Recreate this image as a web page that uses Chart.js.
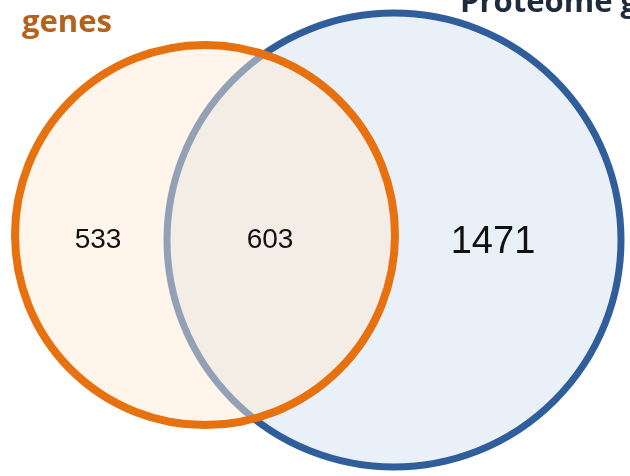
<!DOCTYPE html>
<html>
<head>
<meta charset="utf-8">
<script src="https://cdn.jsdelivr.net/npm/chart.js@4"></script>
<style>
  html, body { margin: 0; padding: 0; background: #fff; }
  #wrap { width: 630px; height: 476px; position: relative; }
</style>
</head>
<body>
<div id="wrap"><canvas id="venn"></canvas></div>
<script>
/* ---------- DATA ---------- */
const setNames = ['genes', 'Proteome genes'];
const regionCounts = [533, 603, 1471];

/* ---------- LAYOUT (data units = pixels) ---------- */
const circles = [
    { x: 394, y: 240, size: 227 },   // right / blue (drawn first)
    { x: 205, y: 235, size: 190 }    // left / orange (on top)
];
const circleStyles = [
    { fill: '#eaf0f8', stroke: '#2f5e9a', width: 7 },
    { fill: 'rgba(255,235,212,0.48)', stroke: '#e8710f', width: 8 }
];
const countSpots = [
    { x: 98, y: 240, font: 28 },
    { x: 270, y: 240, font: 28 },
    { x: 493, y: 243, font: 38 }
];
const titleSpots = [
    { x: 22, y: 32, color: '#b4621c' },
    { x: 460, y: 12, color: '#1e2b3c' }
];

/* ---------- circles, sized through the x scale ---------- */
const circlePlugin = {
    id: 'vennCircles',
    beforeDatasetsDraw(chart) {
        const { ctx, scales: { x, y } } = chart;
        ctx.save();
        chart.data.datasets.forEach((ds, i) => {
            const st = circleStyles[i];
            ds.data.forEach(p => {
                const cx = x.getPixelForValue(p.x);
                const cy = y.getPixelForValue(p.y);
                const r = Math.abs(x.getPixelForValue(p.x + p.size) - cx);
                ctx.beginPath();
                ctx.arc(cx, cy, r, 0, Math.PI * 2);
                ctx.fillStyle = st.fill;
                ctx.fill();
                ctx.lineWidth = st.width;
                ctx.strokeStyle = st.stroke;
                ctx.stroke();
            });
        });
        ctx.restore();
    }
};

const labelPlugin = {
    id: 'vennLabels',
    afterDatasetsDraw(chart) {
        const { ctx, scales: { x, y } } = chart;
        ctx.save();

        // counts
        ctx.fillStyle = '#111';
        ctx.textAlign = 'center';
        ctx.textBaseline = 'middle';
        regionCounts.forEach((v, i) => {
            const p = countSpots[i];
            ctx.font = `${p.font}px "Liberation Sans", Arial, sans-serif`;
            ctx.fillText(String(v), x.getPixelForValue(p.x), y.getPixelForValue(p.y));
        });

        // set titles (cut off by the top edge, as in the source)
        ctx.textAlign = 'left';
        ctx.textBaseline = 'alphabetic';
        ctx.font = 'bold 31px "Open Sans", sans-serif';
        setNames.forEach((name, i) => {
            const p = titleSpots[i];
            ctx.fillStyle = p.color;
            ctx.fillText(name, x.getPixelForValue(p.x), y.getPixelForValue(p.y));
        });

        ctx.restore();
    }
};

new Chart(document.getElementById('venn').getContext('2d'), {
    type: 'scatter',
    data: {
        datasets: [
            { label: setNames[1], data: [circles[0]], pointRadius: 0 },
            { label: setNames[0], data: [circles[1]], pointRadius: 0 }
        ]
    },
    options: {
        responsive: true,
        maintainAspectRatio: false,
        animation: false,
        events: [],
        layout: { padding: 0, autoPadding: false },
        scales: {
            x: { type: 'linear', min: 0, max: 630, display: false },
            y: { type: 'linear', min: 0, max: 476, reverse: true, display: false }
        },
        plugins: {
            legend: { display: false },
            tooltip: { enabled: false }
        }
    },
    plugins: [circlePlugin, labelPlugin]
});
</script>
</body>
</html>
